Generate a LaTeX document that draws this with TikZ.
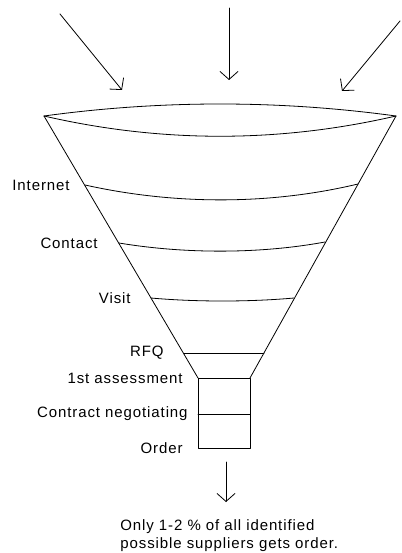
\documentclass[tikz,border=0pt]{standalone}
\usepackage{fontspec}
\setmainfont{Liberation Sans}[LetterSpace=6]
\usetikzlibrary{arrows.meta,positioning}

\begin{document}
\begin{tikzpicture}[x=1pt,y=-1pt,>={Straight Barb[length=8pt,width=18pt]},line width=0.8pt,line join=round,line cap=round,
    lbl/.style={inner sep=0pt,font=\fontsize{15}{18}\selectfont}]
    \useasboundingbox (0,0) rectangle (401,553);
    % incoming arrows
    \coordinate (s1) at (60,14);   \coordinate (e1) at (122,90);
    \coordinate (s2) at (229,8);   \coordinate (e2) at (229,80);
    \coordinate (s3) at (400,21);  \coordinate (e3) at (342,91);
    \draw[->] (s1) -- (e1);
    \draw[->] (s2) -- (e2);
    \draw[->] (s3) -- (e3);
    % funnel
    \coordinate (fl) at (44,116);  \coordinate (fr) at (396,116);
    \coordinate (bl) at (198,378); \coordinate (br) at (250,378);
    \draw (fl) .. controls (161,100) and (279,100) .. (fr);
    \draw (fl) .. controls (161,143) and (279,143) .. (fr);
    \draw (fl) -- (bl);
    \draw (fr) -- (br);
    \coordinate (i1) at (85,185);  \coordinate (i2) at (358,184);
    \coordinate (c1) at (119,243); \coordinate (c2) at (325,242);
    \coordinate (v1) at (151,298); \coordinate (v2) at (294,298);
    \coordinate (r1) at (184,353); \coordinate (r2) at (264,353);
    \draw (i1) .. controls (175,205) and (270,205) .. (i2);
    \draw (c1) .. controls (185,254) and (260,254) .. (c2);
    \draw (v1) .. controls (195,302) and (250,302) .. (v2);
    \draw (r1) -- (r2);
    % box
    \coordinate (ml) at (198,414); \coordinate (mr) at (250,414);
    \coordinate (ol) at (198,448); \coordinate (or) at (250,448);
    \draw (bl) -- (br) -- (or) -- (ol) -- cycle;
    \draw (ml) -- (mr);
    % labels
    \node[lbl,left=15pt of i1] (internet) {Internet};
    \node[lbl,left=21pt of c1] (contact) {Contact};
    \node[lbl,left=20pt of v1] (visit) {Visit};
    \node[lbl,left=20pt of r1] (rfq) {RFQ};
    \node[lbl,left=15pt of bl] (assess) {1st assessment};
    \node[lbl,left=10pt of ml] (negot) {Contract negotiating};
    \node[lbl,left=15pt of ol] (order) {Order};
    % outgoing arrow
    \coordinate (s4) at (226,462); \coordinate (e4) at (226,502);
    \draw[->] (s4) -- (e4);
    \node[lbl,anchor=north west,align=left] (note) at (120,519) {Only 1-2 \% of all identified\\possible suppliers gets order.};
\end{tikzpicture}
\end{document}
